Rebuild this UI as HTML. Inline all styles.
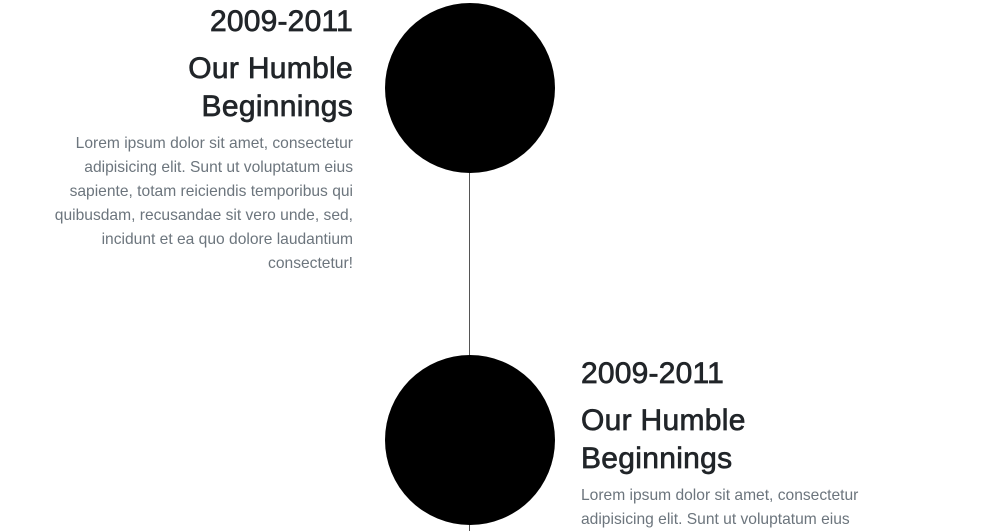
<!DOCTYPE html>
<html><head><meta charset="utf-8"><style>
html,body{margin:0;width:1003px;height:531px;overflow:hidden;background:#fff;font-family:"Liberation Sans",sans-serif;position:relative}
.circle{position:absolute;width:170px;height:170px;border-radius:50%;background:#000;left:385px}
.line{position:absolute;left:469px;width:1px;background:#555}
.block{position:absolute;width:360px}
.year{font-size:30px;color:#212529;line-height:36px;white-space:nowrap;-webkit-text-stroke:0.7px #212529;letter-spacing:0.2px}
.title{font-size:30px;color:#212529;line-height:38px;margin-top:10px;-webkit-text-stroke:0.7px #212529;letter-spacing:0.3px}
.text{font-size:15.6px;color:#6c757d;line-height:24px;margin-top:6px;white-space:nowrap}
.left{text-align:right;left:-7px}
.right{text-align:left;left:581px}
</style></head><body>
<div class="line" style="top:170px;height:361px"></div>
<div class="circle" style="top:3px"></div>
<div class="circle" style="top:355px"></div>
<div class="block left" style="top:4px">
<div class="year">2009-2011</div>
<div class="title">Our Humble<br>Beginnings</div>
<div class="text">Lorem ipsum dolor sit amet, consectetur<br>adipisicing elit. Sunt ut voluptatum eius<br>sapiente, totam reiciendis temporibus qui<br>quibusdam, recusandae sit vero unde, sed,<br>incidunt et ea quo dolore laudantium<br>consectetur!</div>
</div>
<div class="block right" style="top:356px">
<div class="year">2009-2011</div>
<div class="title">Our Humble<br>Beginnings</div>
<div class="text">Lorem ipsum dolor sit amet, consectetur<br>adipisicing elit. Sunt ut voluptatum eius<br>sapiente, totam reiciendis temporibus qui</div>
</div>
</body></html>
